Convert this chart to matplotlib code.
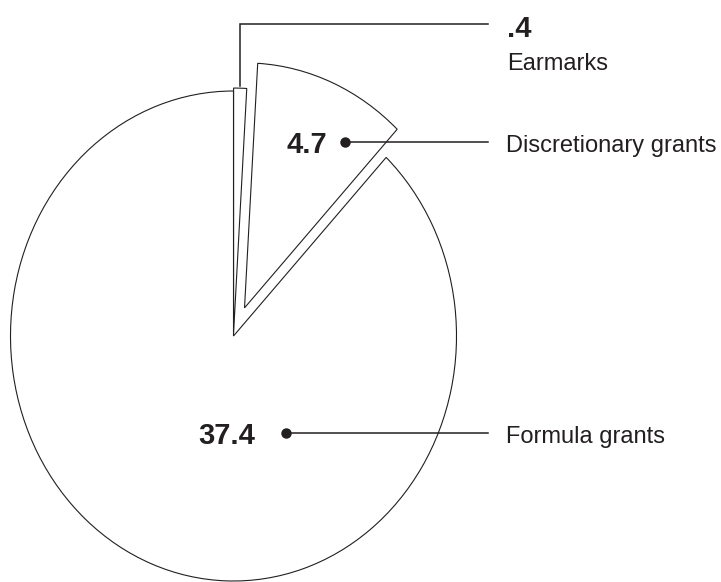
import matplotlib
matplotlib.use("Agg")
import matplotlib.pyplot as plt

# federal grant spending by type (billions)
categories = ["Earmarks", "Discretionary grants", "Formula grants"]
values = [0.4, 4.7, 37.4]
value_labels = [".4", "4.7", "37.4"]

W, H = 721, 582
INK = "#231f20"

# pie is drawn as an ellipse: centre and radii in pixels
CX, CY, RX, RY = 233.5, 336, 223, 245


def px(x, y):
    # pixel position (from top-left) -> data coords of the pie axes
    return (x - CX) / RX, (CY - y) / RY


fig = plt.figure(figsize=(W / 100, H / 100), dpi=100)
ax = fig.add_axes([0, 0, 1, 1])

ax.pie(values, startangle=90, counterclock=False,
       explode=[0.012, 0.125, 0.0],
       wedgeprops=dict(facecolor="white", edgecolor=INK, linewidth=0.8))

ax.set_aspect("auto")
x0, y0 = px(0, H)
x1, y1 = px(W, 0)
ax.set_xlim(x0, x1)
ax.set_ylim(y0, y1)
ax.axis("off")

lw = 1.1
font = "Liberation Sans"

# earmarks: bent leader, no dot
ex, ey = zip(px(239.5, 86), px(239.5, 24), px(488, 24))
ax.plot(ex, ey, color=INK, lw=lw, solid_joinstyle="miter")
ax.text(*px(507, 37), value_labels[0], fontsize=21, fontweight="bold",
        family=font, color=INK, ha="left", va="baseline")
ax.text(*px(507, 70), categories[0], fontsize=17, family=font,
        color=INK, ha="left", va="baseline")

# discretionary and formula: dot + straight leader
anchors = [(345, 142), (286, 433)]
num_right = [327, 255]
for i, (ax_px, ay_px) in zip([1, 2], anchors):
    sx, sy = px(ax_px, ay_px)
    ex2, _ = px(488, ay_px)
    ax.plot([sx, ex2], [sy, sy], color=INK, lw=lw)
    ax.plot([sx], [sy], "o", color=INK, ms=6.5)
    ax.text(*px(num_right[i - 1], ay_px + 11), value_labels[i], fontsize=21,
            fontweight="bold", family=font, color=INK, ha="right", va="baseline")
    ax.text(*px(506, ay_px + 10), categories[i], fontsize=17, family=font,
            color=INK, ha="left", va="baseline")

fig.savefig("out.png", dpi=100, facecolor="white")
